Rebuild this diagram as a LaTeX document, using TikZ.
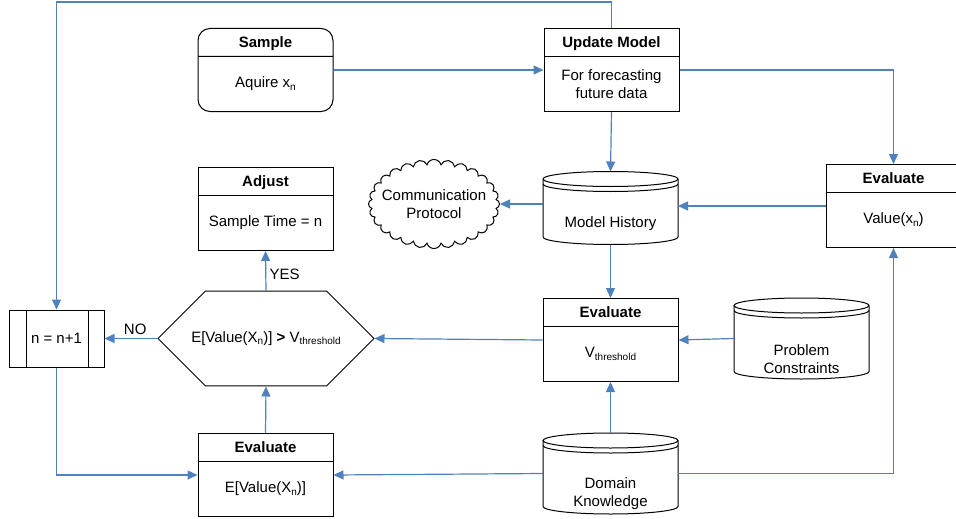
\documentclass[tikz,border=0pt]{standalone}
\usepackage{fontspec}
\setmainfont{Liberation Sans}
\usetikzlibrary{arrows.meta,positioning,calc,shapes.multipart,shapes.symbols,shapes.misc}

\definecolor{linkblue}{HTML}{4F81BD}
\newcommand{\lsub}[1]{\raisebox{-2.5pt}{\fontsize{10}{10}\selectfont #1}}
\newcommand{\hd}[1]{\rule[-8.5pt]{0pt}{27pt}\textbf{#1}}
\newcommand{\bd}[1]{\parbox[c][54pt][c]{130pt}{\centering #1}}

\begin{document}
\begin{tikzpicture}[
    x=1pt, y=-1pt,
    >={Triangle[length=10pt,width=9pt]},
    every node/.style={font=\fontsize{15}{18}\selectfont},
    proc/.style={rectangle split, rectangle split parts=2, draw, line width=1pt,
      minimum width=135pt, inner sep=0pt},
    dbase/.style={rectangle, minimum width=135pt, inner sep=0pt, outer sep=0pt},
    procbar/.style={draw, line width=1pt, minimum width=95pt, minimum height=57pt,
      path picture={
        \draw[line width=1pt] ([xshift=17pt]path picture bounding box.north west) -- ([xshift=17pt]path picture bounding box.south west);
        \draw[line width=1pt] ([xshift=-16pt]path picture bounding box.north east) -- ([xshift=-16pt]path picture bounding box.south east);
      }},
    flow/.style={->, draw=linkblue, line width=1.2pt}
  ]
    \useasboundingbox (0,0) rectangle (956,519);

    % boxes
    \node[proc, rounded corners=12pt, anchor=north] (smp) at (265.5,28) {\hd{Sample}\nodepart{two}\bd{Aquire x\lsub{n}}};
    \node[proc, right=210pt of smp] (upd) {\hd{Update Model}\nodepart{two}\bd{For forecasting\\future data}};
    \node[proc, below=55pt of smp] (adj) {\hd{Adjust}\nodepart{two}\bd{Sample Time = n}};
    \node[proc, anchor=north] (evv) at (893.5,164) {\hd{Evaluate}\nodepart{two}\bd{Value(x\lsub{n})}};
    \node[proc, anchor=north] (evt) at (610.5,298) {\hd{Evaluate}\nodepart{two}\bd{V\lsub{threshold}}};
    \node[proc, anchor=north] (eve) at (265.5,433) {\hd{Evaluate}\nodepart{two}\bd{E[Value(X\lsub{n})]}};

    % data stores
    \node[dbase, minimum height=73pt, label={[yshift=-16pt]center:Model History}] (mh) at (610.5,208) {};
    \node[dbase, minimum height=81pt, label={[yshift=-20.5pt, align=center]center:Problem\\Constraints}] (pc) at (801.5,338.5) {};
    \node[dbase, minimum height=81pt, label={[yshift=-20.5pt, align=center]center:Domain\\Knowledge}] (dk) at (610.5,473.5) {};
    \foreach \db in {mh,pc,dk}{
      \draw[line width=1pt] ($(\db.north)+(0,7.5)$) ellipse[x radius=67.5pt, y radius=7.5pt];
      \draw[line width=1pt] ($(\db.north west)+(0,7.5)$) -- ($(\db.south west)+(0,-7.5)$)
        arc[start angle=180, end angle=360, x radius=67.5pt, y radius=7.5pt] -- ($(\db.north east)+(0,7.5)$);
      \draw[line width=1pt] ($(\db.north west)+(0,12.5)$) arc[start angle=180, end angle=360, x radius=67.5pt, y radius=7.5pt];
    }

    % others
    \node[cloud, cloud puffs=28, aspect=1.5, draw, line width=1pt, minimum width=131pt, minimum height=87pt,
      inner xsep=-10pt, inner ysep=-8pt, align=center] (comm) at (434,204) {Communication\\Protocol};
    \node[chamfered rectangle, chamfered rectangle xsep=26pt, chamfered rectangle ysep=40.5pt, draw, line width=1pt,
      minimum width=216pt, minimum height=81pt, inner sep=0pt] (dec) at (266,338.5) {E[Value(X\lsub{n})] \textbf{>} V\lsub{threshold}};
    \node[procbar] (inc) at (56.5,338.5) {n = n+1};

    % connectors
    \draw[flow] (smp.east) -- (upd.west);
    \draw[flow] (upd.north) -- ++(0,-26) -| (inc.north);
    \draw[flow] (upd.east) -| (evv.north);
    \draw[flow] (upd.south) -- (mh.north);
    \draw[flow] (evv.west) -- (evv.west -| mh.east);
    \draw[flow] (comm.east -| mh.west) -- (comm.east);
    \draw[flow] (mh.south) -- (evt.north);
    \draw[flow] (pc.west) -- (evt.east);
    \draw[flow] (evt.west) -- (dec.east);
    \draw[flow] (dec.north) -- node[right, pos=0.42] {YES} (adj.south);
    \draw[flow] (dec.west) -- node[above, pos=0.42] {NO} (inc.east);
    \draw[flow] (inc.south) |- (eve.west);
    \draw[flow] (eve.north) -- (dec.south);
    \draw[flow] (dk.west) -- (eve.east);
    \draw[flow] (dk.north) -- (evt.south);
    \draw[flow] (dk.east) -| (evv.south);
\end{tikzpicture}
\end{document}
